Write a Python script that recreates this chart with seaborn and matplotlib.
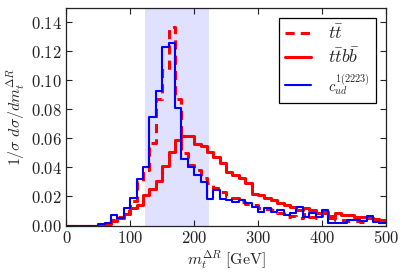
import numpy as np
import pandas as pd
import seaborn as sns
import matplotlib.pyplot as plt
from matplotlib.ticker import FuncFormatter

# 10 GeV bins from 0 to 500 GeV
centers = np.arange(5, 500, 10)

# normalised distributions
tt = [0, 0, 0, 0, 0, 0.0005, 0.002, 0.004, 0.006, 0.010,
      0.017, 0.030, 0.038, 0.057, 0.087, 0.107, 0.137, 0.087, 0.050, 0.042,
      0.038, 0.033, 0.029, 0.026, 0.023, 0.020, 0.019, 0.0165, 0.015, 0.014,
      0.012, 0.0114, 0.011, 0.0084, 0.006, 0.0065, 0.005, 0.008, 0.006, 0.005,
      0.0084, 0.005, 0.0038, 0.0038, 0.003, 0.003, 0.0025, 0.005, 0.0038, 0.0025]
ttbb = [0, 0, 0, 0, 0, 0.0005, 0.001, 0.003, 0.005, 0.008,
        0.012, 0.014, 0.021, 0.025, 0.031, 0.041, 0.051, 0.059, 0.062, 0.062,
        0.056, 0.055, 0.051, 0.047, 0.043, 0.037, 0.035, 0.033, 0.029, 0.022,
        0.021, 0.019, 0.0177, 0.0154, 0.014, 0.013, 0.0107, 0.012, 0.0105, 0.0085,
        0.009, 0.0065, 0.0084, 0.0075, 0.0073, 0.006, 0.006, 0.0055, 0.0045, 0.0038]
cud = [0, 0, 0, 0, 0, 0.001, 0.002, 0.007, 0.005, 0.012,
       0.019, 0.032, 0.040, 0.075, 0.093, 0.123, 0.126, 0.081, 0.046, 0.040,
       0.035, 0.030, 0.018, 0.0246, 0.018, 0.0177, 0.0165, 0.0177, 0.0153, 0.013,
       0.0096, 0.012, 0.009, 0.0107, 0.0073, 0.0084, 0.0126, 0.006, 0.0084, 0.006,
       0.0105, 0.0015, 0.002, 0.002, 0.0038, 0.0038, 0.003, 0.0068, 0.0027, 0.0015]

labels = [r'$t\bar{t}$', r'$t\bar{t}b\bar{b}$', r'$c_{ud}^{1(2223)}$']
window = (123, 223)

df = pd.DataFrame({'m': centers, 'tt': tt, 'ttbb': ttbb, 'cud': cud})

sns.set_style('ticks')
plt.rcParams['font.family'] = ['DejaVu Serif']
plt.rcParams['mathtext.fontset'] = 'cm'

fig = plt.figure(figsize=(4.07, 2.74), dpi=100)
ax = fig.add_axes([0.163, 0.177, 0.785, 0.794])

ax.axvspan(window[0], window[1], color='blue', alpha=0.12, lw=0)

hist_kw = dict(data=df, x='m', binwidth=10, binrange=(0, 500), element='step',
               fill=False, ax=ax)
sns.histplot(weights='tt', color='red', linestyle=(0, (3, 2)), linewidth=2.2, **hist_kw)
sns.histplot(weights='ttbb', color='red', linewidth=2.2, **hist_kw)
sns.histplot(weights='cud', color='blue', linewidth=1.5, **hist_kw)

ax.set_xlim(0, 500)
ax.set_ylim(0, 0.15)
ax.set_xticks(np.arange(0, 501, 100))
ax.set_yticks(np.arange(0, 0.141, 0.02))
ax.xaxis.set_major_formatter(FuncFormatter(lambda v, p: r'$%d$' % v))
ax.yaxis.set_major_formatter(FuncFormatter(lambda v, p: r'$%.2f$' % v))
ax.tick_params(direction='in', top=True, right=True, length=4, width=0.8,
               labelsize=12, colors='#222222', pad=3)
for s in ax.spines.values():
    s.set_color('#222222')
    s.set_linewidth(0.9)

ax.set_xlabel(r'$m_t^{\Delta R}\ [\mathrm{GeV}]$', fontsize=11.5, labelpad=1)
ax.set_ylabel(r'$1/\sigma\ d\sigma/dm_t^{\Delta R}$', fontsize=11.5, labelpad=3)

lines = [l for l in ax.get_lines()][:3]
leg = ax.legend(lines, labels, loc='upper right', fontsize=13, fancybox=False,
                edgecolor='black', framealpha=1, handlelength=1.4,
                handletextpad=0.95, labelspacing=0.25, borderaxespad=0.55,
                borderpad=0.35)
leg.get_texts()[2].set_fontsize(10.5)
leg.get_frame().set_linewidth(0.9)

fig.savefig('out.png', dpi=100)
